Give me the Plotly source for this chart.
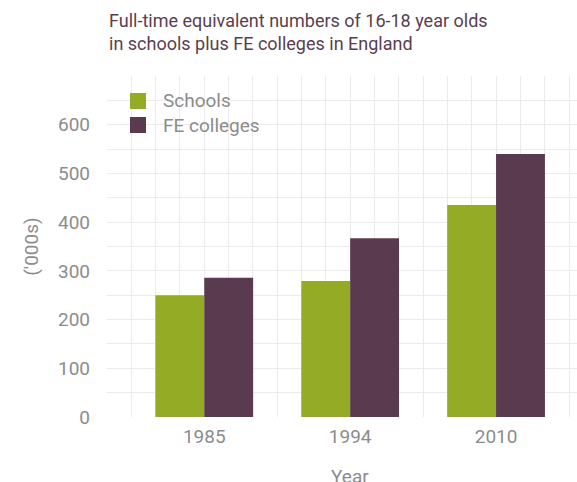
import plotly.graph_objects as go

# Full-time equivalent 16-18 year olds (thousands)
years = ["1985", "1994", "2010"]
schools = [250, 279, 435]
fe_colleges = [286, 367, 540]

series_names = ["Schools", "FE colleges"]
series_colors = ["#94ab26", "#5a3a4e"]
y_ticks = [0, 100, 200, 300, 400, 500, 600]

FONT = "Roboto, sans-serif"
GRID = "#ebebeb"
TEXT_GREY = "#8c8c8c"


def txt(size, color=TEXT_GREY):
    return dict(family=FONT, size=size, color=color)


xpos = list(range(len(years)))

fig = go.Figure()
for name, vals, col in zip(series_names, [schools, fe_colleges], series_colors):
    fig.add_trace(go.Bar(
        x=xpos, y=vals, name=name, marker=dict(color=col, line=dict(width=0)),
        showlegend=False,
    ))

# legend: square keys with labels, placed in the top-left of the panel
shapes = []
annotations = []
for i, (name, col) in enumerate(zip(series_names, series_colors)):
    yc = 101 + 24 * i  # pixel row of the key centre
    y0 = 1 - (yc + 8 - 76) / 341
    y1 = 1 - (yc - 8 - 76) / 341
    shapes.append(dict(type="rect", xref="paper", yref="paper",
                       x0=(130 - 107) / 470, x1=(146 - 107) / 470, y0=y0, y1=y1,
                       fillcolor=col, line=dict(width=0), layer="above"))
    annotations.append(dict(text=name, xref="paper", yref="paper",
                            x=(161 - 107) / 470, y=(y0 + y1) / 2,
                            xanchor="left", yanchor="middle", showarrow=False,
                            font=txt(19)))

annotations += [
    dict(text="Full-time equivalent numbers of 16-18 year olds<br>in schools plus FE colleges in England",
         xref="paper", yref="paper", x=0, y=1, xanchor="left", yanchor="bottom",
         yshift=20, align="left", showarrow=False, font=txt(18, "#5a3e50")),
    dict(text="Year", xref="x", yref="paper", x=1, y=0, xanchor="center", yanchor="top",
         yshift=-46, showarrow=False, font=txt(19)),
]

fig.update_layout(
    width=577, height=482,
    margin=dict(l=107, r=0, t=76, b=65),
    paper_bgcolor="white", plot_bgcolor="white",
    barmode="group", bargap=0.33, bargroupgap=0,
    font=txt(19),
    showlegend=False,
    xaxis=dict(
        range=[-2 / 3, 2 + 81 / 146],
        tickmode="array", tickvals=xpos, ticktext=years,
        showgrid=True, gridcolor=GRID, gridwidth=1,
        minor=dict(dtick=1 / 6, tick0=0, showgrid=True, gridcolor=GRID, gridwidth=1),
        zeroline=False, showline=False, ticks="",
        tickfont=txt(19), ticklabelstandoff=6,
    ),
    yaxis=dict(
        range=[0, 700], tickmode="array", tickvals=y_ticks,
        showgrid=True, gridcolor=GRID, gridwidth=1,
        minor=dict(dtick=50, tick0=0, showgrid=True, gridcolor=GRID, gridwidth=1),
        zeroline=False, showline=False, ticks="",
        tickfont=txt(19), ticklabelstandoff=16,
        title=dict(text="('000s)", font=txt(19), standoff=14),
    ),
    shapes=shapes,
    annotations=annotations,
)

fig.write_html("out.html")
